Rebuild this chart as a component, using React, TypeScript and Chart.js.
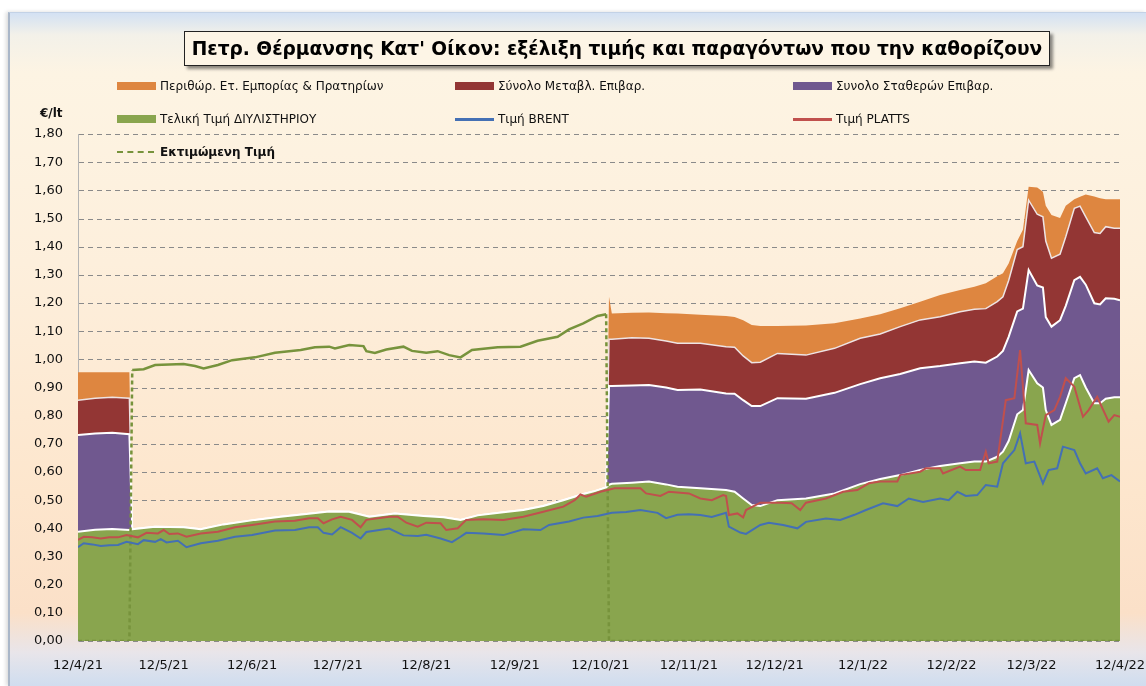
import React, { useEffect, useRef } from 'react';
import { Chart, registerables } from 'chart.js';

Chart.register(...registerables);

const W = 1146;
const H = 686;

// x values are days counted from 12/4/21
const tickDays = [0, 30, 61, 91, 122, 153, 183, 214, 244, 275, 306, 334, 365];
const tickLabels = ['12/4/21', '12/5/21', '12/6/21', '12/7/21', '12/8/21', '12/9/21', '12/10/21', '12/11/21', '12/12/21', '12/1/22', '12/2/22', '12/3/22', '12/4/22'];

const stackDays = [
  0, 6, 12, 18,
  19, 27, 37, 43, 51, 62, 71, 80, 88, 95, 102, 111, 121, 128, 134, 140, 149, 156, 163, 170, 177, 181, 185,
  186, 187, 194, 200, 206, 210, 218, 227, 230, 233, 236, 239, 245, 255, 265, 274, 281, 288, 295, 302,
  309, 314, 318, 322, 324, 326, 329, 331, 333, 336, 338, 339, 341, 344, 346, 349, 351, 353, 356, 358, 360, 363, 365,
];

// Τελική Τιμή ΔΙΥΛΙΣΤΗΡΙΟΥ
const refineryPrice = [
  0.388, 0.395, 0.398, 0.394,
  0.397, 0.406, 0.404, 0.397, 0.414, 0.430, 0.441, 0.451, 0.460, 0.459, 0.441, 0.453, 0.444, 0.439, 0.430, 0.446, 0.457, 0.465, 0.479, 0.500, 0.522, 0.532, 0.545,
  0.555, 0.558, 0.562, 0.566, 0.556, 0.548, 0.542, 0.536, 0.530, 0.506, 0.483, 0.479, 0.500, 0.506, 0.524, 0.557, 0.575, 0.589, 0.607, 0.621,
  0.631, 0.637, 0.637, 0.654, 0.672, 0.710, 0.805, 0.820, 0.962, 0.915, 0.900, 0.820, 0.767, 0.785, 0.844, 0.933, 0.944, 0.900, 0.844, 0.844, 0.860, 0.865, 0.865,
];

// Συνολο Σταθερών Επιβαρ.
const fixedCharges = [
  0.343, 0.342, 0.341, 0.340,
  0, 0, 0, 0, 0, 0, 0, 0, 0, 0, 0, 0, 0, 0, 0, 0, 0, 0, 0, 0, 0, 0, 0,
  0.350, 0.347, 0.345, 0.343, 0.344, 0.343, 0.351, 0.343, 0.348, 0.349, 0.351, 0.355, 0.362, 0.354, 0.357, 0.355, 0.358, 0.359, 0.361, 0.355,
  0.355, 0.355, 0.351, 0.356, 0.358, 0.370, 0.365, 0.360, 0.355, 0.347, 0.355, 0.330, 0.349, 0.354, 0.346, 0.348, 0.349, 0.365, 0.355, 0.351, 0.357, 0.350, 0.345,
];

// Σύνολο Μεταβλ. Επιβαρ.
const variableCharges = [
  0.124, 0.125, 0.126, 0.128,
  0, 0, 0, 0, 0, 0, 0, 0, 0, 0, 0, 0, 0, 0, 0, 0, 0, 0, 0, 0, 0, 0, 0,
  0.166, 0.166, 0.170, 0.166, 0.165, 0.166, 0.164, 0.166, 0.165, 0.157, 0.154, 0.156, 0.159, 0.155, 0.158, 0.163, 0.157, 0.168, 0.172, 0.175,
  0.183, 0.186, 0.192, 0.195, 0.192, 0.200, 0.220, 0.220, 0.248, 0.253, 0.251, 0.270, 0.243, 0.234, 0.245, 0.255, 0.251, 0.241, 0.251, 0.252, 0.254, 0.250, 0.255,
];

// Περιθώρ. Ετ. Εμπορίας & Πρατηρίων
const retailMargin = [
  0.099, 0.092, 0.089, 0.092,
  0, 0, 0, 0, 0, 0, 0, 0, 0, 0, 0, 0, 0, 0, 0, 0, 0, 0, 0, 0, 0, 0, 0,
  0.151, 0.092, 0.088, 0.091, 0.099, 0.106, 0.101, 0.109, 0.107, 0.127, 0.134, 0.128, 0.097, 0.105, 0.089, 0.070, 0.070, 0.065, 0.064, 0.077,
  0.077, 0.080, 0.090, 0.090, 0.084, 0.060, 0.030, 0.060, 0.048, 0.095, 0.089, 0.125, 0.153, 0.129, 0.110, 0.032, 0.033, 0.079, 0.128, 0.125, 0.097, 0.103, 0.103,
];

// Εκτιμώμενη Τιμή
const estDays = [0, 18, 19, 23, 27, 37, 41, 44, 49, 54, 62, 69, 78, 83, 88, 90, 95, 100, 101, 104, 108, 114, 117, 122, 126, 130, 134, 138, 147, 155, 161, 168, 172, 177, 182, 185, 186, 365];
const estValues = [0, 0, 0.962, 0.965, 0.980, 0.983, 0.976, 0.968, 0.980, 0.997, 1.007, 1.023, 1.033, 1.043, 1.045, 1.039, 1.051, 1.047, 1.029, 1.023, 1.035, 1.045, 1.030, 1.023, 1.029, 1.015, 1.007, 1.033, 1.043, 1.045, 1.066, 1.080, 1.106, 1.128, 1.154, 1.160, 0, 0];

// Τιμή BRENT
const brentDays = [0, 2, 5, 8, 11, 14, 17, 21, 23, 27, 29, 31, 35, 38, 43, 49, 55, 61, 69, 76, 81, 84, 86, 89, 92, 96, 99, 101, 109, 114, 119, 122, 127, 131, 134, 136, 142, 149, 156, 162, 165, 172, 177, 182, 187, 192, 197, 203, 206, 210, 214, 218, 222, 227, 228, 232, 234, 239, 242, 247, 252, 255, 262, 267, 272, 276, 282, 287, 291, 296, 302, 305, 308, 311, 315, 318, 322, 324, 328, 330, 332, 335, 338, 340, 343, 345, 349, 351, 353, 357, 359, 362, 365];
const brentValues = [0.333, 0.347, 0.343, 0.337, 0.340, 0.341, 0.352, 0.344, 0.358, 0.352, 0.362, 0.350, 0.356, 0.333, 0.347, 0.356, 0.370, 0.376, 0.392, 0.394, 0.404, 0.404, 0.384, 0.378, 0.404, 0.384, 0.364, 0.387, 0.399, 0.375, 0.373, 0.377, 0.364, 0.351, 0.370, 0.384, 0.382, 0.376, 0.397, 0.394, 0.412, 0.424, 0.438, 0.444, 0.455, 0.458, 0.465, 0.455, 0.436, 0.448, 0.450, 0.447, 0.440, 0.455, 0.406, 0.385, 0.380, 0.412, 0.420, 0.412, 0.400, 0.423, 0.435, 0.430, 0.448, 0.465, 0.489, 0.479, 0.506, 0.494, 0.506, 0.500, 0.530, 0.515, 0.518, 0.554, 0.548, 0.631, 0.678, 0.737, 0.631, 0.637, 0.560, 0.607, 0.613, 0.690, 0.678, 0.631, 0.595, 0.613, 0.578, 0.589, 0.566];

// Τιμή PLATTS
const plattsDays = [0, 2, 5, 8, 11, 14, 17, 21, 24, 28, 30, 32, 35, 38, 43, 49, 55, 61, 69, 76, 81, 84, 86, 89, 92, 96, 99, 101, 109, 112, 115, 119, 122, 127, 129, 133, 136, 142, 149, 156, 163, 170, 174, 176, 178, 183, 188, 197, 199, 204, 207, 214, 218, 222, 226, 227, 228, 231, 233, 234, 239, 246, 250, 253, 255, 262, 268, 273, 277, 281, 287, 288, 295, 297, 302, 303, 309, 311, 316, 318, 319, 322, 325, 328, 330, 332, 336, 337, 339, 342, 344, 346, 349, 352, 354, 357, 361, 363, 365];
const plattsValues = [0.359, 0.370, 0.368, 0.364, 0.368, 0.368, 0.376, 0.368, 0.384, 0.382, 0.394, 0.380, 0.382, 0.370, 0.382, 0.388, 0.404, 0.412, 0.424, 0.427, 0.436, 0.436, 0.418, 0.432, 0.441, 0.430, 0.404, 0.430, 0.441, 0.441, 0.420, 0.406, 0.420, 0.418, 0.394, 0.400, 0.430, 0.432, 0.430, 0.441, 0.459, 0.477, 0.500, 0.520, 0.512, 0.530, 0.542, 0.542, 0.524, 0.515, 0.530, 0.524, 0.506, 0.500, 0.518, 0.515, 0.447, 0.453, 0.439, 0.465, 0.491, 0.491, 0.489, 0.465, 0.491, 0.506, 0.530, 0.536, 0.560, 0.566, 0.566, 0.589, 0.601, 0.613, 0.613, 0.595, 0.619, 0.607, 0.607, 0.672, 0.631, 0.637, 0.855, 0.862, 1.033, 0.773, 0.767, 0.702, 0.802, 0.820, 0.867, 0.933, 0.903, 0.796, 0.820, 0.867, 0.779, 0.802, 0.796];

const titleText = "Πετρ. Θέρμανσης Κατ' Οίκον: εξέλιξη τιμής και παραγόντων που την καθορίζουν";
const unitLabel = '€/lt';

const ORANGE = '#de8640';
const DARKRED = '#933634';
const PURPLE = '#70588f';
const GREEN = '#89a54e';
const BLUE = '#4470b4';
const RED = '#c0504d';
const ESTGREEN = '#77933c';

const FONT = "'DejaVu Sans', Verdana, sans-serif";

type LegendEntry = { label: string; color: string; kind: 'box' | 'line' | 'dash'; x: number; y: number; bold?: boolean };

const legendEntries: LegendEntry[] = [
  { label: 'Περιθώρ. Ετ. Εμπορίας & Πρατηρίων', color: ORANGE, kind: 'box', x: 117, y: 86 },
  { label: 'Σύνολο Μεταβλ. Επιβαρ.', color: DARKRED, kind: 'box', x: 455, y: 86 },
  { label: 'Συνολο Σταθερών Επιβαρ.', color: PURPLE, kind: 'box', x: 793, y: 86 },
  { label: 'Τελική Τιμή ΔΙΥΛΙΣΤΗΡΙΟΥ', color: GREEN, kind: 'box', x: 117, y: 119 },
  { label: 'Τιμή BRENT', color: BLUE, kind: 'line', x: 455, y: 119 },
  { label: 'Τιμή PLATTS', color: RED, kind: 'line', x: 793, y: 119 },
  { label: 'Εκτιμώμενη  Τιμή', color: ESTGREEN, kind: 'dash', x: 117, y: 152, bold: true },
];

function LegendItem({ e }: { e: LegendEntry }) {
  let swatch: React.ReactNode;
  if (e.kind === 'box') {
    swatch = <div style={{ position: 'absolute', left: 0, top: -4, width: 39, height: 8, background: e.color }} />;
  } else if (e.kind === 'line') {
    swatch = <div style={{ position: 'absolute', left: 0, top: -1.5, width: 39, height: 3, background: e.color }} />;
  } else {
    swatch = <div style={{ position: 'absolute', left: 0, top: -1, width: 37, height: 0, borderTop: `2px dashed ${e.color}` }} />;
  }
  return (
    <div style={{ position: 'absolute', left: e.x, top: e.y, height: 0 }}>
      {swatch}
      <div style={{ position: 'absolute', left: 43, top: -8, whiteSpace: 'nowrap', fontFamily: FONT, fontSize: 12, lineHeight: '16px', fontWeight: e.bold ? 'bold' : 'normal', color: '#111' }}>
        {e.label}
      </div>
    </div>
  );
}

// dashed horizontal gridlines at the y-scale ticks, under the datasets
const dashedGrid = {
  id: 'dashedGrid',
  beforeDatasetsDraw(chart: any) {
    const { ctx, chartArea, scales } = chart;
    const ys = scales.y;
    ctx.save();
    ctx.strokeStyle = '#8a8a8a';
    ctx.lineWidth = 1;
    ctx.setLineDash([5, 4]);
    ys.ticks.forEach((t: any) => {
      const y = Math.round(ys.getPixelForValue(t.value)) + 0.5;
      ctx.beginPath();
      ctx.moveTo(chartArea.left + 1, y);
      ctx.lineTo(chartArea.right, y);
      ctx.stroke();
    });
    ctx.restore();
  },
};

export default function App() {
  const ref = useRef<HTMLCanvasElement>(null);

  useEffect(() => {
    const pts = (xs: number[], ys: number[]) => xs.map((x, i) => ({ x, y: ys[i] }));
    const chart = new Chart(ref.current as HTMLCanvasElement, {
      type: 'line',
      data: {
        datasets: [
          { label: 'Τελική Τιμή ΔΙΥΛΙΣΤΗΡΙΟΥ', data: pts(stackDays, refineryPrice), backgroundColor: GREEN, borderColor: '#ffffff', borderWidth: 2, fill: 'origin', stack: 'cost', order: 2 },
          { label: 'Συνολο Σταθερών Επιβαρ.', data: pts(stackDays, fixedCharges), backgroundColor: PURPLE, borderColor: '#ffffff', borderWidth: 2, fill: '-1', stack: 'cost', order: 3 },
          { label: 'Σύνολο Μεταβλ. Επιβαρ.', data: pts(stackDays, variableCharges), backgroundColor: DARKRED, borderColor: '#eee4e4', borderWidth: 1.5, fill: '-1', stack: 'cost', order: 4 },
          { label: 'Περιθώρ. Ετ. Εμπορίας & Πρατηρίων', data: pts(stackDays, retailMargin), backgroundColor: ORANGE, borderColor: ORANGE, borderWidth: 0, fill: '-1', stack: 'cost', order: 5 },
          {
            label: 'Εκτιμώμενη Τιμή', data: pts(estDays, estValues), borderColor: ESTGREEN, borderWidth: 2.5, fill: false, stack: 'est', order: 1,
            segment: { borderDash: (ctx: any) => (ctx.p0.parsed.y === 0 || ctx.p1.parsed.y === 0 ? [4, 3] : undefined) },
          },
          { label: 'Τιμή BRENT', data: pts(brentDays, brentValues), borderColor: BLUE, borderWidth: 2, fill: false, stack: 'brent', order: 0 },
          { label: 'Τιμή PLATTS', data: pts(plattsDays, plattsValues), borderColor: RED, borderWidth: 2, fill: false, stack: 'platts', order: 0 },
        ] as any,
      },
      plugins: [dashedGrid],
      options: {
        responsive: false,
        maintainAspectRatio: false,
        animation: false,
        events: [],
        layout: { padding: { top: 134, right: 26, bottom: 15, left: 0 } },
        elements: { point: { radius: 0, hoverRadius: 0 }, line: { tension: 0 } },
        plugins: { legend: { display: false }, tooltip: { enabled: false }, title: { display: false } },
        scales: {
          x: {
            type: 'linear',
            min: 0,
            max: 365,
            grid: { display: false },
            border: { display: false },
            afterBuildTicks: (s: any) => { s.ticks = tickDays.map((v) => ({ value: v })); },
            afterFit: (s: any) => { s.height = 30; s.paddingLeft = 0; s.paddingRight = 0; },
            ticks: {
              autoSkip: false,
              maxRotation: 0,
              padding: 9,
              color: '#111',
              font: { family: FONT, size: 13 },
              callback: (v: any) => { const i = tickDays.indexOf(Number(v)); return i >= 0 ? tickLabels[i] : ''; },
            },
          },
          y: {
            type: 'linear',
            stacked: true,
            min: 0,
            max: 1.8,
            afterFit: (s: any) => { s.width = 78; },
            grid: { display: false, drawTicks: false },
            border: { display: true, color: '#b4b4b4', width: 1 },
            ticks: {
              stepSize: 0.1,
              padding: 15,
              color: '#111',
              font: { family: FONT, size: 13 },
              callback: (v: any) => Number(v).toFixed(2).replace('.', ','),
            },
          },
        },
      } as any,
    });
    return () => chart.destroy();
  }, []);

  return (
    <div style={{ position: 'fixed', left: 0, top: 0, width: W, height: H, background: '#ffffff', overflow: 'hidden' }}>
      <div
        style={{
          position: 'absolute', left: 8, top: 12, width: W - 8, height: H - 12,
          borderLeft: '2px solid #a9b6c8', borderTop: '1px solid #c3d2e6', boxSizing: 'border-box',
          boxShadow: '-2px 0 4px rgba(0,0,0,0.15)',
          background: 'linear-gradient(180deg, #d3e1f3 0px, #f3f1e9 22px, #fdf4e3 60px, #fdefdc 250px, #fde6cd 480px, #fbe0c8 600px, #e8e5ea 640px, #d5dfee 665px, #d0dcef 674px)',
        }}
      />
      <canvas ref={ref} width={W} height={H} style={{ position: 'absolute', left: 0, top: 0, width: W, height: H }} />
      <div
        style={{
          position: 'absolute', left: 184, top: 31, width: 866, height: 35, boxSizing: 'border-box',
          border: '1px solid #222', background: '#fdf5e6', boxShadow: '3px 3px 3px rgba(0,0,0,0.45)',
          display: 'flex', alignItems: 'center', justifyContent: 'center',
          fontFamily: FONT, fontWeight: 'bold', fontSize: 18.6, color: '#000', whiteSpace: 'nowrap',
        }}
      >
        {titleText}
      </div>
      {legendEntries.map((e) => <LegendItem key={e.label} e={e} />)}
      <div style={{ position: 'absolute', left: 40, top: 105, fontFamily: FONT, fontWeight: 'bold', fontSize: 12, lineHeight: '16px', color: '#111' }}>
        {unitLabel}
      </div>
    </div>
  );
}
